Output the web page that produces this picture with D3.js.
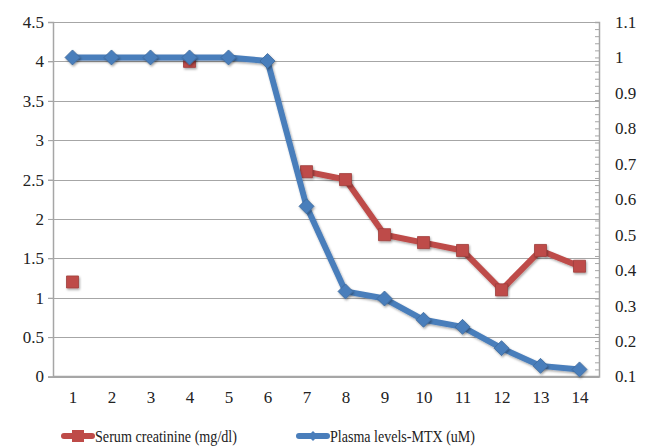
<!DOCTYPE html>
<html>
<head>
<meta charset="utf-8">
<script src="https://cdn.jsdelivr.net/npm/d3@7"></script>
<style>
  body { margin: 0; background: #fff; }
  svg text { font-family: "Liberation Serif", "DejaVu Serif", serif; fill: #222; }
</style>
</head>
<body>
<svg id="chart" width="648" height="448"></svg>
<script>
// chart values
var days = ["1","2","3","4","5","6","7","8","9","10","11","12","13","14"];
var creatinine = [1.2, null, null, 4.0, null, null, 2.6, 2.5, 1.8, 1.7, 1.6, 1.1, 1.6, 1.4];
var mtx = [1.0, 1.0, 1.0, 1.0, 1.0, 0.99, 0.58, 0.34, 0.32, 0.26, 0.24, 0.18, 0.13, 0.12];
var leftTicks = [0, 0.5, 1, 1.5, 2, 2.5, 3, 3.5, 4, 4.5];
var rightTicks = [0.1, 0.2, 0.3, 0.4, 0.5, 0.6, 0.7, 0.8, 0.9, 1, 1.1];

var RED = "#be4b48", BLUE = "#4a7ebb";
var FONT = "'Liberation Serif', 'DejaVu Serif', serif";
var plotLeft = 53, plotRight = 599, plotTop = 22, plotBottom = 376.5;

var svg = d3.select("#chart");

var x = d3.scalePoint().domain(days).range([plotLeft, plotRight]).padding(0.5);
var yL = d3.scaleLinear().domain([0, 4.5]).range([plotBottom, plotTop]);
var yR = d3.scaleLinear().domain([0.1, 1.1]).range([plotBottom, plotTop]);

// grid
svg.append("g")
  .selectAll("line")
  .data(leftTicks)
  .enter()
  .append("line")
  .attr("x1", plotLeft - 5)
  .attr("x2", plotRight)
  .attr("y1", function(d) { return Math.round(yL(d)) + 0.5; })
  .attr("y2", function(d) { return Math.round(yL(d)) + 0.5; })
  .attr("stroke", "#a6a6a6")
  .attr("stroke-width", 1.2);

// left axis
var gl = svg.append("g")
  .attr("transform", "translate(" + plotLeft + " 0)")
  .call(d3.axisLeft(yL).tickValues(leftTicks).tickSize(5).tickFormat(d3.format("")));
gl.select(".domain").attr("stroke", "#a6a6a6").attr("stroke-width", 1.5);
gl.selectAll(".tick line").attr("stroke", "#a6a6a6");
gl.selectAll("text").attr("x", -9)
  .style("font-family", FONT).style("font-size", "17px").style("fill", "#222");

// right axis with minor ticks
var minor = d3.range(10, 111, 2).map(function(d) { return d / 100; });
var gm = svg.append("g")
  .attr("transform", "translate(" + plotRight + " 0)")
  .call(d3.axisLeft(yR).tickValues(minor).tickSize(4).tickFormat(""));
gm.select(".domain").attr("stroke", "#a6a6a6").attr("stroke-width", 1.5);
gm.selectAll(".tick line").attr("stroke", "#a6a6a6");

var gr = svg.append("g")
  .attr("transform", "translate(" + plotRight + " 0)")
  .call(d3.axisRight(yR).tickValues(rightTicks).tickSize(0).tickFormat(d3.format("")));
gr.select(".domain").remove();
gr.selectAll("text").attr("x", 16)
  .style("font-family", FONT).style("font-size", "17px").style("fill", "#222");

// x axis
var gx = svg.append("g")
  .attr("transform", "translate(0 " + plotBottom + ")")
  .call(d3.axisBottom(x).tickSize(0));
gx.select(".domain").attr("stroke", "#a6a6a6").attr("stroke-width", 1.5)
  .attr("d", "M" + plotLeft + ",0H" + plotRight);
gx.selectAll("text").attr("y", 14)
  .style("font-family", FONT).style("font-size", "17px").style("fill", "#222");

var defs = svg.append("defs");
var f = defs.append("filter").attr("id", "sh").attr("x", "-50%").attr("y", "-50%").attr("width", "200%").attr("height", "200%");
f.append("feDropShadow").attr("dx", 1).attr("dy", 1.5).attr("stdDeviation", 1.2).attr("flood-color", "#000").attr("flood-opacity", 0.35);

// series
function drawSeries(vals, y, color, shape) {
  var pts = vals.map(function(v, i) { return { k: days[i], v: v }; });
  var line = d3.line()
    .defined(function(d) { return d.v != null; })
    .x(function(d) { return x(d.k); })
    .y(function(d) { return y(d.v); });
  svg.append("path")
    .datum(pts)
    .attr("d", line)
    .attr("fill", "none")
    .attr("stroke", color)
    .attr("stroke-width", 6)
    .attr("stroke-linejoin", "round")
    .attr("filter", "url(#sh)");
  svg.append("g")
    .selectAll("path")
    .data(pts.filter(function(d) { return d.v != null; }))
    .enter()
    .append("path")
    .attr("transform", function(d) { return "translate(" + x(d.k) + " " + y(d.v) + ")"; })
    .attr("d", shape)
    .attr("fill", color)
    .attr("stroke", d3.color(color).darker(0.5))
    .attr("stroke-width", 0.8)
    .attr("filter", "url(#sh)");
}

var sq = "M-6,-6H6V6H-6Z";
var dia = "M0,-7.5L7.5,0L0,7.5L-7.5,0Z";
drawSeries(creatinine, yL, RED, sq);
drawSeries(mtx, yR, BLUE, dia);

// legend
var legend = [
  { name: "Serum creatinine (mg/dl)", color: RED, shape: sq, x: 64, w: 142 },
  { name: "Plasma levels-MTX (uM)", color: BLUE, shape: "M0,-5L5,0L0,5L-5,0Z", x: 299, w: 145 }
];
var lg = svg.append("g").selectAll("g").data(legend).enter().append("g")
  .attr("transform", function(d) { return "translate(" + d.x + " 436)"; });
lg.append("line")
  .attr("x1", 0).attr("x2", 28)
  .attr("stroke", function(d) { return d.color; })
  .attr("stroke-width", 6)
  .attr("stroke-linecap", "round");
lg.append("path")
  .attr("transform", "translate(14 0)")
  .attr("d", function(d) { return d.shape; })
  .attr("fill", function(d) { return d.color; });
lg.append("text")
  .attr("x", 31)
  .attr("dy", "0.35em")
  .attr("textLength", function(d) { return d.w; })
  .attr("lengthAdjust", "spacingAndGlyphs")
  .style("font-size", "17px")
  .text(function(d) { return d.name; });
</script>
</body>
</html>
